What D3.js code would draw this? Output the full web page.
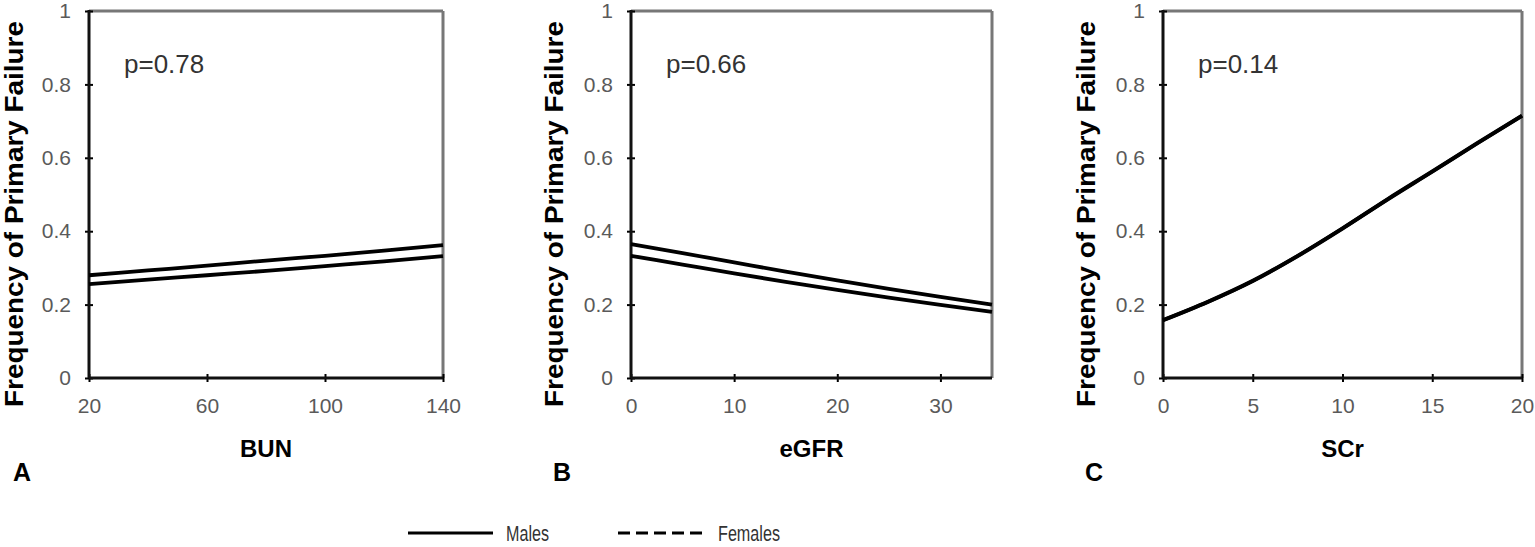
<!DOCTYPE html>
<html>
<head>
<meta charset="utf-8">
<script src="https://cdn.jsdelivr.net/npm/d3@7"></script>
<style>
  body { margin: 0; background: #fff; }
  svg { display: block; font-family: "Liberation Sans", Arial, sans-serif; }
  .tick text { fill: #5a5a5a; }
</style>
</head>
<body>
<div id="chart"></div>
<script>
// data
var yTicks = [0, 0.2, 0.4, 0.6, 0.8, 1];

var bunX = [20, 40, 60, 80, 100, 120, 140];
var bunMales = [0.28, 0.293, 0.306, 0.32, 0.333, 0.347, 0.362];
var bunFemales = [0.256, 0.268, 0.28, 0.292, 0.305, 0.318, 0.332];
var bunTicks = [20, 60, 100, 140];

var egfrX = [0, 5, 10, 15, 20, 25, 30, 35];
var egfrMales = [0.365, 0.34, 0.315, 0.29, 0.266, 0.243, 0.221, 0.2];
var egfrFemales = [0.333, 0.309, 0.285, 0.262, 0.24, 0.219, 0.199, 0.18];
var egfrTicks = [0, 10, 20, 30];

var scrX = [0, 2.5, 5, 7.5, 10, 12.5, 15, 17.5, 20];
var scrMales = [0.158, 0.208, 0.265, 0.333, 0.408, 0.487, 0.563, 0.64, 0.715];
var scrFemales = [0.157, 0.207, 0.264, 0.332, 0.407, 0.486, 0.562, 0.639, 0.714];
var scrTicks = [0, 5, 10, 15, 20];

var xTitles = ["BUN", "eGFR", "SCr"];
var pLabels = ["p=0.78", "p=0.66", "p=0.14"];
var panelLetters = ["A", "B", "C"];
var legendNames = ["Males", "Females"];

function drawChart() {
  var svgWidth = 1535;
  var svgHeight = 547;

  var svg = d3.select("#chart")
    .append("svg")
    .attr("width", svgWidth)
    .attr("height", svgHeight);

  var plotTop = 11, plotBottom = 378;

  var panels = [
    { left: 89, right: 443, xs: bunX, males: bunMales, females: bunFemales, domain: [20, 140], ticks: bunTicks, titleX: 23, letterX: 13 },
    { left: 631, right: 992, xs: egfrX, males: egfrMales, females: egfrFemales, domain: [0, 35], ticks: egfrTicks, titleX: 563, letterX: 553 },
    { left: 1163, right: 1522, xs: scrX, males: scrMales, females: scrFemales, domain: [0, 20], ticks: scrTicks, titleX: 1095, letterX: 1085 }
  ];

  panels.forEach(function(p, i) {
    var x = d3.scaleLinear().domain(p.domain).range([p.left, p.right]);
    var y = d3.scaleLinear().domain([0, 1]).range([plotBottom, plotTop]);

    var g = svg.append("g");

    // frame, top and right in gray
    g.append("line")
      .attr("x1", p.left).attr("x2", p.right)
      .attr("y1", plotTop).attr("y2", plotTop)
      .attr("stroke", "#777").attr("stroke-width", 3);
    g.append("line")
      .attr("x1", p.right).attr("x2", p.right)
      .attr("y1", plotTop).attr("y2", plotBottom)
      .attr("stroke", "#777").attr("stroke-width", 3);

    // axes
    var yAxis = d3.axisLeft(y).tickValues(yTicks).tickSize(4)
      .tickFormat(function(d) { return d === 0 || d === 1 ? d3.format("d")(d) : d3.format(".1f")(d); });
    var gy = g.append("g").attr("transform", `translate(${p.left},0)`).call(yAxis);
    gy.select(".domain").remove();
    gy.selectAll(".tick line").attr("x2", 4).attr("x1", -4).attr("stroke", "#000").attr("stroke-width", 2);
    gy.selectAll(".tick text").style("font-size", "21px").attr("x", -18);

    var xAxis = d3.axisBottom(x).tickValues(p.ticks).tickSize(4);
    var gx = g.append("g").attr("transform", `translate(0,${plotBottom})`).call(xAxis);
    gx.select(".domain").remove();
    gx.selectAll(".tick line").attr("y1", -4).attr("y2", 4).attr("stroke", "#000").attr("stroke-width", 2);
    gx.selectAll(".tick text").style("font-size", "21px").attr("y", 20).attr("dy", "0.71em");

    g.append("line")
      .attr("x1", p.left).attr("x2", p.left)
      .attr("y1", plotTop - 1).attr("y2", plotBottom)
      .attr("stroke", "#111").attr("stroke-width", 3);
    g.append("line")
      .attr("x1", p.left).attr("x2", p.right)
      .attr("y1", plotBottom).attr("y2", plotBottom)
      .attr("stroke", "#111").attr("stroke-width", 3);

    // curves
    var line = d3.line()
      .x(function(d) { return x(d[0]); })
      .y(function(d) { return y(d[1]); })
      .curve(d3.curveMonotoneX);
    [p.males, p.females].forEach(function(vals) {
      g.append("path")
        .datum(p.xs.map(function(v, j) { return [v, vals[j]]; }))
        .attr("d", line)
        .attr("fill", "none")
        .attr("stroke", "#000")
        .attr("stroke-width", 3.8);
    });

    // texts
    g.append("text")
      .attr("x", p.left + 35).attr("y", 73)
      .style("font-size", "26px").attr("fill", "#333")
      .text(pLabels[i]);

    g.append("text")
      .attr("x", (p.left + p.right) / 2).attr("y", 457)
      .attr("text-anchor", "middle")
      .style("font-size", "24px").style("font-weight", "bold")
      .text(xTitles[i]);

    g.append("text")
      .attr("transform", `translate(${p.titleX},214) rotate(-90)`)
      .attr("text-anchor", "middle")
      .attr("textLength", 386).attr("lengthAdjust", "spacingAndGlyphs")
      .style("font-size", "25px").style("font-weight", "bold")
      .text("Frequency of Primary Failure");

    g.append("text")
      .attr("x", p.letterX).attr("y", 481)
      .style("font-size", "25px").style("font-weight", "bold")
      .text(panelLetters[i]);
  });

  // legend
  var legend = svg.append("g").attr("transform", "translate(0,533)");
  legend.append("line")
    .attr("x1", 408).attr("x2", 493).attr("y1", 0).attr("y2", 0)
    .attr("stroke", "#000").attr("stroke-width", 3);
  legend.append("text")
    .attr("x", 506).attr("y", 8)
    .style("font-size", "22px").attr("fill", "#333")
    .attr("textLength", 43).attr("lengthAdjust", "spacingAndGlyphs")
    .text(legendNames[0]);
  legend.append("line")
    .attr("x1", 618).attr("x2", 705).attr("y1", 0).attr("y2", 0)
    .attr("stroke", "#000").attr("stroke-width", 3)
    .attr("stroke-dasharray", "12,6");
  legend.append("text")
    .attr("x", 718).attr("y", 8)
    .style("font-size", "22px").attr("fill", "#333")
    .attr("textLength", 62).attr("lengthAdjust", "spacingAndGlyphs")
    .text(legendNames[1]);
}

drawChart();
</script>
</body>
</html>
